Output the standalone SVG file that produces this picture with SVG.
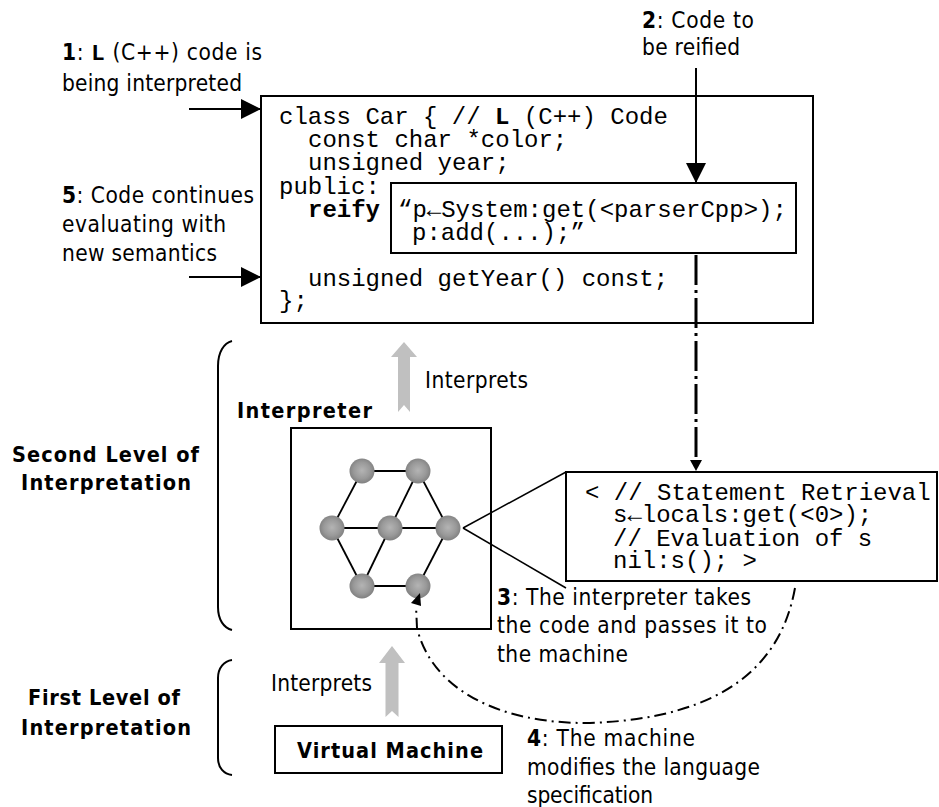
<svg xmlns="http://www.w3.org/2000/svg" width="939" height="807" viewBox="0 0 939 807">
<defs>
<style>
.s{font-family:"DejaVu Sans Condensed","DejaVu Sans","Liberation Sans",sans-serif;font-stretch:condensed;font-size:22.5px;fill:#000}
.b{font-family:"DejaVu Sans Condensed","DejaVu Sans","Liberation Sans",sans-serif;font-stretch:condensed;font-size:21.5px;font-weight:bold;fill:#000}
.m{font-family:"Liberation Mono","DejaVu Sans Mono",monospace;font-size:24px;fill:#000}
.mb{font-family:"Liberation Mono","DejaVu Sans Mono",monospace;font-weight:bold;font-stretch:normal}
.bx{fill:#fff;stroke:#000;stroke-width:2}
.ln{stroke:#000;stroke-width:2;fill:none}
.edge{stroke:#000;stroke-width:1.8}
.gray{fill:#c0c0c0}
.brace{fill:none;stroke:#000;stroke-width:2}
</style>
<radialGradient id="ball" cx="50%" cy="48%" r="55%">
<stop offset="0" stop-color="#b4b4b4"/>
<stop offset="0.6" stop-color="#999"/>
<stop offset="1" stop-color="#7c7c7c"/>
</radialGradient>
<marker id="ahBig" markerWidth="20" markerHeight="20" refX="20" refY="10" orient="auto" markerUnits="userSpaceOnUse" viewBox="0 0 20 20">
<path d="M0,0 L20,10 L0,20 Z" fill="#000"/>
</marker>
</defs>
<rect width="939" height="807" fill="#fff"/>

<g id="code">
<rect class="bx" x="261" y="96" width="552" height="227"/>
<text class="m" x="279" y="124">class Car { // <tspan class="mb">L</tspan> (C++) Code</text>
<text class="m" x="308" y="147">const char *color;</text>
<text class="m" x="308" y="170">unsigned year;</text>
<text class="m" x="279" y="194">public:</text>
<text class="m mb" x="308" y="217">reify</text>
<text class="m" x="308" y="286">unsigned getYear() const;</text>
<text class="m" x="279" y="308">};</text>
</g>

<g id="reify">
<rect class="bx" x="391" y="183" width="405" height="70"/>
<text class="m" x="398" y="217">“p←System:get(&lt;parserCpp&gt;);</text>
<text class="m" x="412" y="240">p:add(...);”</text>
</g>

<g id="statement">
<rect class="bx" x="566" y="472" width="371" height="109"/>
<text class="m" x="585" y="500">&lt; // Statement Retrieval</text>
<text class="m" x="613" y="522">s←locals:get(&lt;0&gt;);</text>
<text class="m" x="613" y="546">// Evaluation of s</text>
<text class="m" x="613" y="568">nil:s(); &gt;</text>
</g>

<g id="interpreter">
<rect class="bx" x="291" y="428" width="200" height="201"/>
<text class="b" x="237" y="418" textLength="135">Interpreter</text>
<g id="graph">
<line class="edge" x1="362" y1="471" x2="418" y2="471"/>
<line class="edge" x1="362" y1="471" x2="332" y2="528"/>
<line class="edge" x1="418" y1="471" x2="390" y2="528"/>
<line class="edge" x1="418" y1="471" x2="448" y2="528"/>
<line class="edge" x1="332" y1="528" x2="448" y2="528"/>
<line class="edge" x1="332" y1="528" x2="362" y2="586"/>
<line class="edge" x1="390" y1="528" x2="362" y2="586"/>
<line class="edge" x1="448" y1="528" x2="418" y2="586"/>
<line class="edge" x1="362" y1="586" x2="418" y2="586"/>
<circle cx="362" cy="471" r="12.5" fill="url(#ball)"/>
<circle cx="418" cy="471" r="12.5" fill="url(#ball)"/>
<circle cx="332" cy="528" r="12.5" fill="url(#ball)"/>
<circle cx="390" cy="528" r="12.5" fill="url(#ball)"/>
<circle cx="448" cy="528" r="12.5" fill="url(#ball)"/>
<circle cx="362" cy="586" r="12.5" fill="url(#ball)"/>
<circle cx="418" cy="586" r="12.5" fill="url(#ball)"/>
</g>
</g>

<g id="vm">
<rect class="bx" x="275" y="726" width="227" height="47"/>
<text class="b" x="297" y="758" textLength="186">Virtual Machine</text>
</g>

<g id="levels">
<path class="brace" d="M232,341 C224,343 218,352 218,366 L218,607 C218,620 224,628 232,630"/>
<path class="brace" d="M232,660 C224,661 218,668 218,678 L218,758 C218,768 224,774 232,775"/>
<text class="b" x="12" y="462" textLength="187">Second Level of</text>
<text class="b" x="21" y="490" textLength="170">Interpretation</text>
<text class="b" x="28" y="705" textLength="152">First Level of</text>
<text class="b" x="21" y="735" textLength="170">Interpretation</text>
</g>

<g id="labels">
<text class="s" x="62" y="60" textLength="200"><tspan font-weight="bold">1</tspan>: <tspan class="mb">L</tspan> (C++) code is</text>
<text class="s" x="62" y="91" textLength="180">being interpreted</text>
<text class="s" x="642" y="28" textLength="112"><tspan font-weight="bold">2</tspan>: Code to</text>
<text class="s" x="642" y="55" textLength="98">be reified</text>
<text class="s" x="62" y="203" textLength="192"><tspan font-weight="bold">5</tspan>: Code continues</text>
<text class="s" x="62" y="232" textLength="164">evaluating with</text>
<text class="s" x="62" y="261" textLength="155">new semantics</text>
<text class="s" x="425" y="388" textLength="103">Interprets</text>
<text class="s" x="271" y="691" textLength="101">Interprets</text>
<text class="s" x="497" y="605" textLength="254"><tspan font-weight="bold">3</tspan>: The interpreter takes</text>
<text class="s" x="497" y="633" textLength="270">the code and passes it to</text>
<text class="s" x="497" y="662" textLength="131">the machine</text>
<text class="s" x="527" y="746" textLength="168"><tspan font-weight="bold">4</tspan>: The machine</text>
<text class="s" x="527" y="775" textLength="233">modifies the language</text>
<text class="s" x="527" y="803" textLength="126">specification</text>
</g>

<g id="connectors">
<line class="ln" x1="189" y1="109" x2="261" y2="109" marker-end="url(#ahBig)"/>
<line class="ln" x1="189" y1="277" x2="261" y2="277" marker-end="url(#ahBig)"/>
<line class="ln" x1="696" y1="68" x2="696" y2="183" marker-end="url(#ahBig)"/>
<line stroke="#000" stroke-width="3" stroke-dasharray="30 5 3 5" x1="696" y1="255" x2="696" y2="460"/>
<polygon points="690,460 702,460 696,471" fill="#000"/>
<line stroke="#000" stroke-width="1.5" x1="463" y1="528" x2="566" y2="472"/>
<line stroke="#000" stroke-width="1.5" x1="463" y1="528" x2="566" y2="588"/>
<path fill="none" stroke="#000" stroke-width="2" stroke-dasharray="12 5 2 5" d="M795,588 C782,660 730,718 590,723 C500,724 432,690 417,628 L416,606"/>
<polygon points="420,593 411,603 421,606" fill="#000"/>
<polygon class="gray" points="404,342 417,357 410,357 410,412 404,405 398,412 398,357 391,357"/>
<polygon class="gray" points="392,646 405,663 398.5,663 398.5,717 392,711 385.5,717 385.5,663 379,663"/>
</g>
</svg>
